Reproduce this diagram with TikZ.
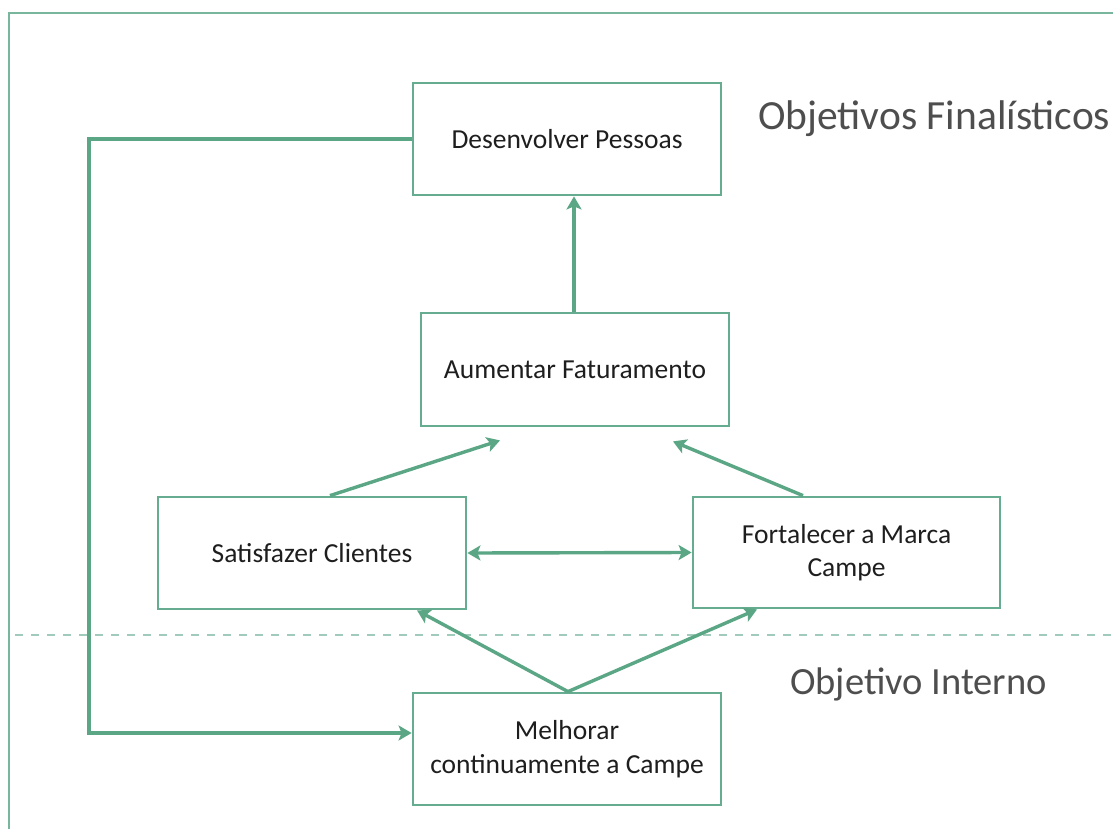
\documentclass[tikz,border=0pt]{standalone}
\usepackage{fontspec}
\setmainfont{Carlito}
\usetikzlibrary{arrows.meta,calc}
\definecolor{gline}{HTML}{5BA685}
\definecolor{gbox}{HTML}{66AC90}
\definecolor{gframe}{HTML}{78B69E}
\definecolor{gdash}{HTML}{A0CBBB}
\definecolor{txt}{HTML}{1E1E1E}
\definecolor{ttl}{HTML}{4E4E4E}
\tikzset{
  objbox/.style={draw=gbox, line width=2.8pt, minimum width=308pt, minimum height=112pt,
    inner sep=0pt, align=center, text=txt, font=\fontsize{27.5}{33.5}\selectfont},
  conn/.style={draw=gline, line width=3.4pt},
  arr/.style={conn, -{Stealth[length=13pt,width=15pt,inset=3pt]}},
  darr/.style={conn, {Stealth[length=13pt,width=15pt,inset=3pt]}-{Stealth[length=13pt,width=15pt,inset=3pt]}},
  ttlnode/.style={anchor=base west, inner sep=0pt, text=ttl}
}
\begin{document}
\begin{tikzpicture}[x=1pt,y=-1pt]
\useasboundingbox (0,0) rectangle (1113,829);
\clip (0,0) rectangle (1113,829);
\fill[white] (0,0) rectangle (1113,829);
% frame
\draw[gframe, line width=2.6pt] (9,13) rectangle (1130,845);
% dashed separator
\draw[gdash, line width=2pt, dash pattern=on 8pt off 8pt] (15,635) -- (1113,635);
% boxes
\node[objbox] (des) at (567,139) {Desenvolver Pessoas};
\node[objbox, minimum height=113pt] (aum) at (575,369.5) {Aumentar Faturamento};
\node[objbox] (sat) at (312,553) {Satisfazer Clientes};
\node[objbox, minimum width=307pt, minimum height=111pt] (for) at (846.5,552.5) {Fortalecer a Marca\\Campe};
\node[objbox] (mel) at (567,749) {Melhorar\\continuamente a Campe};
% titles
\node[ttlnode, font=\fontsize{41.5}{45}\selectfont] (t1) at (758,130) {Objetivos Finalísticos};
\node[ttlnode, font=\fontsize{38.5}{42}\selectfont] (t2) at (790,694) {Objetivo Interno};
% connectors
\draw[arr] (aum.north -| 574,0) -- (des.south -| 574,0);
\draw[arr] ([xshift=18pt]sat.north) -- ([xshift=-75pt,yshift=-13pt]aum.south);
\draw[arr] ([xshift=-43.5pt]for.north) -- ([xshift=98pt,yshift=-14pt]aum.south);
\draw[darr] (sat.east) -- (for.west);
\coordinate (apex) at ([xshift=1pt]mel.north);
\draw[arr] (apex) -- ([xshift=105pt]sat.south);
\draw[arr] (apex) -- ([xshift=-89.5pt]for.south);
\coordinate (lx) at (89,0);
\coordinate (melin) at ([yshift=16pt]mel.west);
\draw[arr] (des.west) -- (des.west -| lx) |- (melin);
\end{tikzpicture}
\end{document}
